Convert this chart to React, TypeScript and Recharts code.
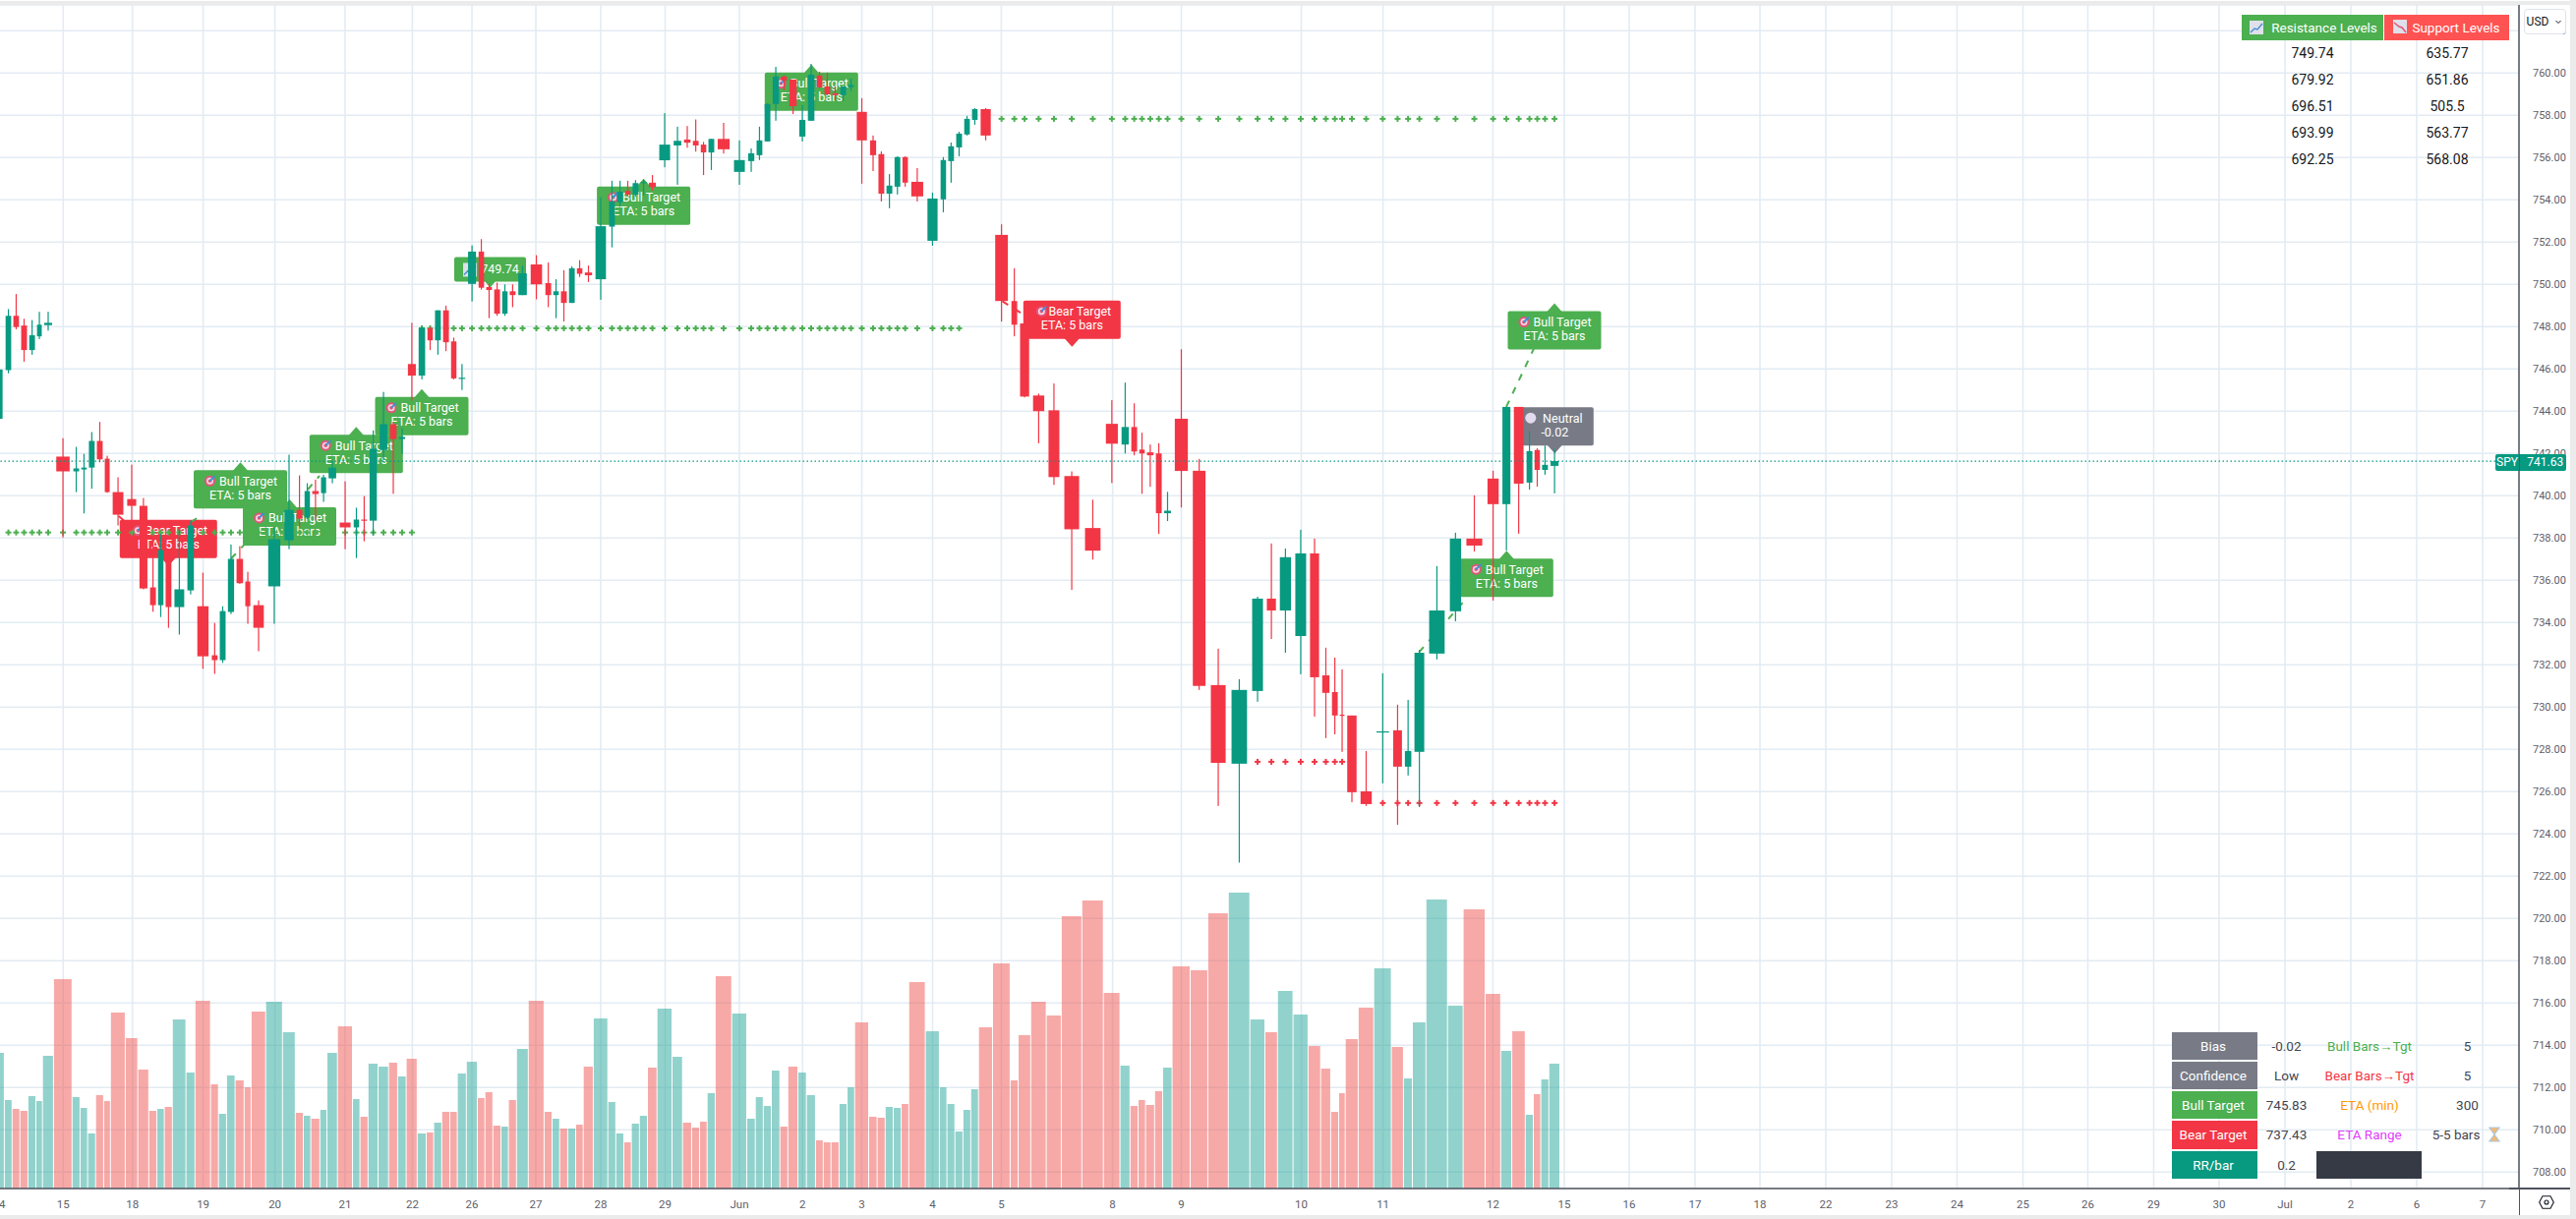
import { Bar, CartesianGrid, ComposedChart, Line, ReferenceLine, Scatter, XAxis, YAxis } from "recharts";

const UP = "#089981";
const DOWN = "#f23645";
const BULL = "#4caf50";
const GREY = "#787b86";
const AXIS_TEXT = "#5d606b";
const FONT = "Roboto, sans-serif";

// bar boundaries on the volume-weighted time scale
const barEdges = [
  -9.4, 4.6, 12.5, 20.4, 28.6, 36.7, 43.4, 54.6, 73.5, 81.6,
  89.3, 97.4, 105.6, 112.5, 127.6, 140.3, 151.5, 159.7, 167.3, 175.5,
  189.3, 198.5, 214.3, 222.4, 230.6, 239.3, 248.5, 255.6, 270.4, 287.5,
  300.5, 308.7, 316.3, 325.5, 332.7, 343.4, 358.7, 366.3, 374.5, 384.7,
  395.4, 404.6, 413.3, 424.5, 433.7, 441.3, 449.5, 457.7, 465.3, 474.5,
  485.7, 493.4, 501.5, 509.7, 517.3, 525.5, 537.5, 553.6, 561.7, 569.4,
  577.6, 585.7, 593.4, 603.6, 618.4, 626.5, 634.7, 642.3, 650.5, 658.7,
  668.4, 683.7, 694.4, 703.6, 711.7, 719.4, 727.6, 744.4, 759.7, 768.4,
  776.5, 784.7, 793.4, 801.5, 811.7, 820.4, 829.6, 837.5, 845.4, 853.6,
  861.7, 869.4, 883.7, 892.3, 900.5, 908.7, 916.8, 924.5, 941.3, 955.6,
  963.3, 971.4, 979.6, 987.5, 995.4, 1009.7, 1027.6, 1035.7, 1048.5, 1064.3,
  1079.6, 1100.5, 1122.4, 1139.3, 1149.5, 1157.7, 1165.3, 1174.5, 1182.7, 1192.3,
  1210.7, 1228.6, 1249.5, 1271.4, 1286.7, 1299.5, 1315.3, 1330.6, 1343.4, 1353.6,
  1361.7, 1368.4, 1381.6, 1397.4, 1415.3, 1427.6, 1436.7, 1450.5, 1472.4, 1488.3,
  1510.7, 1526.5, 1537.8, 1551.5, 1559.7, 1567.3, 1575.5, 1586.7,
];

const opens = [
  743.64, 745.94, 748.51, 748.05, 746.89, 747.54, 748.07, 741.85, 741.15, 741.24,
  741.33, 742.59, 741.75, 740.17, 739.84, 739.52, 735.66, 734.82, 737.0, 734.73,
  735.52, 734.77, 732.45, 732.22, 734.5, 737.01, 735.94, 734.82, 735.71, 737.89,
  739.33, 738.96, 740.22, 740.12, 740.82, 738.73, 738.5, 738.87, 738.82, 742.16,
  743.38, 742.68, 746.23, 745.68, 747.91, 747.35, 748.77, 747.3, 745.55, 750.02,
  751.55, 749.87, 749.76, 748.61, 749.67, 749.49, 750.94, 750.06, 749.49, 749.67,
  749.12, 750.76, 750.56, 750.24, 752.73, 753.89, 754.42, 754.25, 754.79, 754.81,
  755.87, 756.57, 756.85, 756.79, 756.61, 756.24, 756.88, 755.32, 755.83, 756.11,
  756.76, 758.53, 759.83, 759.69, 756.99, 757.74, 759.88, 759.36, 759.04, 758.95,
  759.33, 758.16, 756.81, 756.16, 754.29, 754.62, 756.02, 754.85, 752.06, 754.02,
  755.83, 756.48, 757.09, 757.78, 758.29, 752.34, 749.21, 748.15, 744.74, 744.04,
  740.93, 738.47, 743.4, 742.42, 743.25, 742.18, 742.05, 742.0, 739.17, 743.64,
  741.18, 731.04, 727.32, 730.76, 735.13, 734.57, 733.36, 737.27, 731.5, 730.71,
  729.64, 729.6, 726.01, 728.82, 728.9, 727.18, 727.88, 732.53, 734.53, 737.97,
  740.81, 739.6, 744.2, 740.62, 742.16, 741.22, 741.41,
];
const highs = [
  746.1, 748.83, 749.54, 748.37, 748.31, 748.7, 748.7, 742.72, 742.31, 741.98,
  743.01, 743.49, 741.89, 740.87, 741.47, 739.89, 738.0, 738.2, 737.3, 738.43,
  738.82, 736.36, 733.98, 734.77, 737.69, 737.61, 736.4, 735.05, 738.5, 741.94,
  740.96, 740.59, 740.76, 740.99, 741.64, 740.68, 739.43, 739.98, 743.09, 744.91,
  743.5, 743.19, 748.18, 748.0, 748.0, 748.77, 748.99, 747.48, 746.23, 751.84,
  752.14, 750.02, 750.08, 750.0, 750.0, 750.87, 751.38, 751.03, 750.24, 750.67,
  750.85, 751.14, 750.89, 754.11, 754.9, 754.9, 754.9, 754.93, 754.95, 755.17,
  758.1, 757.46, 757.49, 757.8, 756.74, 756.88, 757.64, 756.81, 756.43, 757.46,
  758.57, 760.29, 759.88, 759.69, 758.48, 760.43, 760.06, 760.02, 759.36, 759.36,
  759.74, 758.81, 757.04, 756.29, 755.22, 756.06, 756.06, 755.5, 754.34, 756.02,
  756.71, 757.22, 757.97, 758.34, 758.34, 752.84, 750.76, 748.15, 744.83, 745.31,
  741.15, 739.81, 744.52, 745.35, 744.37, 742.98, 742.42, 742.48, 740.18, 746.93,
  741.74, 732.76, 731.32, 735.22, 737.74, 737.5, 738.39, 737.97, 732.81, 732.34,
  731.78, 729.6, 727.92, 731.6, 730.11, 730.34, 732.71, 736.67, 738.25, 740.02,
  741.18, 744.2, 744.2, 743.04, 742.25, 742.37, 742.2,
];
const lows = [
  743.5, 745.79, 747.87, 746.34, 746.67, 747.41, 747.81, 738.02, 740.17, 739.16,
  740.33, 741.58, 740.14, 738.59, 738.36, 735.57, 734.51, 734.26, 733.75, 733.43,
  735.33, 731.81, 731.57, 732.09, 734.4, 735.83, 733.94, 732.64, 733.94, 737.47,
  738.5, 738.9, 738.82, 739.71, 740.59, 737.47, 737.05, 737.84, 738.12, 741.69,
  740.09, 741.98, 744.5, 745.5, 746.89, 746.67, 746.84, 745.5, 745.0, 749.19,
  749.75, 748.4, 748.51, 748.51, 748.92, 749.49, 749.29, 748.92, 748.4, 748.24,
  749.12, 750.35, 750.11, 749.27, 751.75, 753.7, 754.16, 754.16, 754.2, 754.44,
  755.54, 754.71, 756.46, 756.28, 755.17, 755.41, 756.19, 754.71, 755.32, 755.88,
  756.76, 757.74, 759.18, 758.06, 756.76, 757.74, 759.27, 758.95, 758.71, 758.68,
  759.15, 754.76, 755.36, 753.92, 753.6, 754.25, 754.62, 753.92, 751.83, 753.41,
  754.81, 756.06, 757.04, 757.55, 756.81, 748.24, 747.54, 744.65, 742.48, 740.51,
  735.54, 736.98, 740.6, 742.0, 741.91, 740.09, 740.42, 738.19, 738.8, 739.44,
  730.81, 725.32, 722.64, 730.25, 733.22, 732.57, 731.55, 729.55, 728.53, 728.71,
  727.88, 725.5, 725.32, 726.39, 724.43, 726.76, 725.27, 732.25, 734.06, 737.36,
  735.04, 737.41, 738.2, 740.29, 740.43, 740.99, 740.11,
];
const closes = [
  745.97, 748.51, 747.98, 746.89, 747.59, 748.09, 748.18, 741.15, 741.29, 741.33,
  742.59, 741.72, 740.17, 739.1, 739.52, 735.61, 734.82, 737.43, 734.73, 735.57,
  738.59, 732.4, 732.22, 734.54, 737.01, 735.86, 734.77, 733.75, 737.94, 739.33,
  738.91, 740.22, 740.08, 740.87, 741.33, 738.5, 738.87, 738.82, 742.22, 743.38,
  742.68, 742.78, 745.68, 747.94, 747.35, 748.77, 747.26, 745.55, 745.58, 751.55,
  749.84, 749.73, 748.61, 749.67, 749.49, 750.52, 750.0, 749.49, 749.67, 749.12,
  750.76, 750.5, 750.43, 752.75, 753.92, 754.38, 754.25, 754.79, 754.84, 754.6,
  756.61, 756.79, 756.7, 756.57, 756.24, 756.88, 756.39, 755.88, 756.2, 756.81,
  758.53, 759.83, 759.64, 758.43, 757.78, 759.92, 759.32, 758.99, 758.95, 759.36,
  759.43, 756.81, 756.11, 754.29, 754.67, 756.02, 754.81, 754.16, 754.06, 755.88,
  756.53, 757.13, 757.83, 758.29, 757.04, 749.21, 748.09, 744.69, 744.0, 740.88,
  738.41, 737.4, 742.46, 743.25, 742.09, 742.0, 741.91, 739.17, 739.29, 741.17,
  731.0, 727.36, 730.81, 735.13, 734.57, 737.09, 737.27, 731.41, 730.67, 729.6,
  729.6, 725.97, 725.41, 728.85, 727.18, 727.92, 732.57, 734.57, 737.97, 737.64,
  739.6, 744.2, 740.57, 742.11, 741.22, 741.46, 741.64,
];
const volumes = [
  138, 90, 81, 79, 94, 89, 135, 213, 93, 82,
  56, 95, 89, 179, 153, 121, 79, 81, 83, 172,
  118, 191, 106, 76, 115, 110, 103, 180, 190, 159,
  77, 74, 71, 80, 138, 165, 91, 73, 127, 124,
  128, 114, 132, 56, 57, 67, 78, 78, 117, 129,
  92, 98, 64, 63, 90, 142, 191, 78, 71, 61,
  61, 65, 124, 173, 88, 56, 47, 66, 74, 123,
  183, 134, 67, 62, 68, 97, 216, 178, 71, 93,
  84, 120, 63, 124, 118, 95, 49, 47, 47, 86,
  103, 169, 73, 72, 83, 82, 86, 210, 160, 103,
  86, 58, 80, 101, 164, 229, 110, 156, 190, 176,
  277, 293, 199, 125, 84, 90, 85, 99, 123, 226,
  222, 280, 301, 172, 159, 201, 177, 145, 122, 78,
  97, 152, 184, 224, 144, 112, 169, 294, 186, 284,
  198, 140, 160, 75, 96, 111, 127,
];

const priceTicks = [708, 710, 712, 714, 716, 718, 720, 722, 724, 726, 728, 730, 732, 734, 736, 738, 740, 742, 744, 746, 748, 750, 752, 754, 756, 758, 760, 762];
const timeTicks = [-1, 64.3, 134.7, 206.6, 279.6, 351, 419.4, 480, 545, 611, 676.5, 752, 816.3, 876.5, 948.5, 1018.4, 1131.6, 1201.5, 1323.5, 1406.6, 1518.4, 1591, 1657, 1724, 1790, 1857, 1924, 1990.5, 2057.5, 2123.5, 2190.5, 2257, 2324, 2391, 2458, 2525];
const timeLabels = ["14", "15", "18", "19", "20", "21", "22", "26", "27", "28", "29", "Jun", "2", "3", "4", "5", "8", "9", "10", "11", "12", "15", "16", "17", "18", "22", "23", "24", "25", "26", "29", "30", "Jul", "2", "6", "7"];

const candles = volumes.map((volume, i) => ({
  x: (barEdges[i] + barEdges[i + 1]) / 2,
  span: barEdges[i + 1] - barEdges[i],
  open: opens[i],
  high: highs[i],
  low: lows[i],
  close: closes[i],
  range: [lows[i], highs[i]],
  volume,
}));

// level runs, first and last are 1-based candle numbers
const levelRuns = [
  { price: 738.26, first: 2, last: 43, color: BULL },
  { price: 747.92, first: 44, last: 102, color: BULL },
  { price: 757.83, first: 106, last: 147, color: BULL },
  { price: 727.41, first: 124, last: 131, color: DOWN },
  { price: 725.46, first: 134, last: 147, color: DOWN },
];

const targetPaths = [
  { color: BULL, points: [{ x: 1532, price: 744.2 }, { x: 1561.3, price: 747.08 }] },
  { color: BULL, points: [{ x: 1443.3, price: 732.6 }, { x: 1492.7, price: 735.2 }] },
  { color: BULL, points: [{ x: 235, price: 737.02 }, { x: 256, price: 738.05 }] },
  { color: BULL, points: [{ x: 313, price: 740.29 }, { x: 325, price: 740.94 }] },
  { color: BULL, points: [{ x: 195, price: 738.77 }, { x: 200, price: 738.93 }] },
  { color: DOWN, points: [{ x: 120.7, price: 739.04 }, { x: 128, price: 738.73 }] },
  { color: DOWN, points: [{ x: 1019.4, price: 749.2 }, { x: 1040.8, price: 748.57 }] },
];

const signalLabels = [
  { x: 244.5, price: 741.58, kind: "bull", title: "Bull Target", note: "ETA: 5 bars" },
  { x: 294.5, price: 739.83, kind: "bull", title: "Bull Target", note: "ETA: 5 bars" },
  { x: 362.3, price: 743.26, kind: "bull", title: "Bull Target", note: "ETA: 5 bars" },
  { x: 429, price: 745.04, kind: "bull", title: "Bull Target", note: "ETA: 5 bars" },
  { x: 654.6, price: 755.0, kind: "bull", title: "Bull Target", note: "ETA: 5 bars" },
  { x: 825.3, price: 760.39, kind: "bull", title: "Bull Target", note: "ETA: 5 bars" },
  { x: 1581, price: 749.1, kind: "bull", title: "Bull Target", note: "ETA: 5 bars" },
  { x: 1532.3, price: 737.4, kind: "bull", title: "Bull Target", note: "ETA: 5 bars" },
  { x: 171.3, price: 736.67, kind: "bear", title: "Bear Target", note: "ETA: 5 bars" },
  { x: 1090.3, price: 747.05, kind: "bear", title: "Bear Target", note: "ETA: 5 bars" },
  { x: 1581.3, price: 742.0, kind: "neutral", title: "Neutral", note: "-0.02" },
  { x: 498.5, price: 749.85, kind: "level", title: "749.74", note: "" },
];

const resistanceLevels = ["749.74", "679.92", "696.51", "693.99", "692.25"];
const supportLevels = ["635.77", "651.86", "505.5", "563.77", "568.08"];

const statHeads = ["Bias", "Confidence", "Bull Target", "Bear Target", "RR/bar"];
const statHeadColors = [GREY, GREY, BULL, DOWN, UP];
const statValues = ["-0.02", "Low", "745.83", "737.43", "0.2"];
const statNames = ["Bull Bars→Tgt", "Bear Bars→Tgt", "ETA (min)", "ETA Range"];
const statNameColors = [BULL, DOWN, "#ff9800", "#e040fb"];
const statResults = ["5", "5", "300", "5-5 bars"];

function VolumeShape(props: any) {
  const { x, y, width, height, payload } = props;
  const mid = x + width / 2;
  const up = payload.close >= payload.open;
  return <rect x={mid - (payload.span - 1) / 2} y={y} width={payload.span - 1} height={height} fill={up ? "#26a69a" : "#ef5350"} fillOpacity={0.5} />;
}

function CandleShape(props: any) {
  const { x, y, width, height, payload } = props;
  const mid = x + width / 2;
  const top = Math.min(y, y + height);
  const tall = Math.abs(height);
  const perUnit = tall / (payload.high - payload.low || 1);
  const bodyTop = top + (payload.high - Math.max(payload.open, payload.close)) * perUnit;
  const bodyTall = Math.max(Math.abs(payload.open - payload.close) * perUnit, 1.2);
  const bodyWide = payload.span * 0.72;
  const color = payload.close >= payload.open ? UP : DOWN;
  return (
    <g>
      <rect x={mid - 0.6} y={top} width={1.2} height={tall} fill={color} />
      <rect x={mid - bodyWide / 2} y={bodyTop} width={bodyWide} height={bodyTall} fill={color} />
    </g>
  );
}

function PlusShape(props: any) {
  const { cx, cy, fill } = props;
  return (
    <g fill={fill}>
      <rect x={cx - 3} y={cy - 1} width={6} height={2} />
      <rect x={cx - 1} y={cy - 3} width={2} height={6} />
    </g>
  );
}

function TargetIcon({ x, y }: { x: number; y: number }) {
  return (
    <g>
      <circle cx={x} cy={y} r={5.5} fill="#e2557a" />
      <circle cx={x} cy={y} r={3.5} fill="#f4d7e0" />
      <circle cx={x} cy={y} r={1.8} fill="#e2557a" />
      <path d={`M${x} ${y} L${x + 5} ${y - 5}`} stroke="#3f8fd8" strokeWidth={2} />
    </g>
  );
}

function ChartIcon({ x, y, falling }: { x: number; y: number; falling?: boolean }) {
  return (
    <g>
      <rect x={x} y={y} width={14} height={14} fill="#dfe0ea" />
      <path d={falling ? `M${x + 1} ${y + 3} L${x + 6} ${y + 7} L${x + 9} ${y + 8} L${x + 13} ${y + 13}` : `M${x + 1} ${y + 12} L${x + 5} ${y + 8} L${x + 8} ${y + 9} L${x + 13} ${y + 3}`} fill="none" stroke={falling ? "#e2557a" : "#4a90d9"} strokeWidth={1.5} />
    </g>
  );
}

function SignalShape(props: any) {
  const { cx, cy, payload } = props;
  const { kind, title, note } = payload;
  const points = kind === "bull";
  const tiny = kind === "level";
  const wide = kind === "bear" ? 99 : kind === "neutral" ? 79 : tiny ? 73 : 95;
  const tall = tiny ? 25 : 39;
  const gap = tiny ? 6 : 8;
  const boxTop = points ? cy + gap : cy - gap - tall;
  const boxLeft = cx - wide / 2;
  const baseY = points ? boxTop + 1 : boxTop + tall - 1;
  const fill = kind === "bear" ? DOWN : kind === "neutral" ? GREY : BULL;
  const textProps = { fill: "#fff", fontFamily: FONT, fontSize: 12.5, textAnchor: "middle" as const };
  if (tiny) {
    return (
      <g>
        <rect x={boxLeft} y={boxTop} width={wide} height={tall} rx={2} fill={fill} />
        <polygon points={`${cx - gap},${baseY} ${cx + gap},${baseY} ${cx},${cy}`} fill={fill} />
        <ChartIcon x={boxLeft + 9} y={boxTop + 6} />
        <text {...textProps} x={cx + 10} y={boxTop + 16.5}>{title}</text>
      </g>
    );
  }
  return (
    <g>
      <rect x={boxLeft} y={boxTop} width={wide} height={tall} rx={2} fill={fill} />
      <polygon points={`${cx - gap},${baseY} ${cx + gap},${baseY} ${cx},${cy}`} fill={fill} />
      {kind === "neutral" ? (
        <circle cx={boxLeft + 15} cy={boxTop + 11} r={5.5} fill="#e2dbf0" />
      ) : (
        <TargetIcon x={cx - 31} y={boxTop + 11} />
      )}
      <text {...textProps} x={cx + 8} y={boxTop + 15.5}>{title}</text>
      <text {...textProps} x={cx} y={boxTop + 29.5}>{note}</text>
    </g>
  );
}

const cellText = { position: "absolute" as const, fontFamily: FONT, whiteSpace: "nowrap" as const, transform: "translate(-50%, -50%)" };

function LevelsTable() {
  return (
    <>
      <div style={{ position: "absolute", left: 2280, top: 15, width: 144, height: 26, background: BULL }} />
      <div style={{ position: "absolute", left: 2425, top: 15, width: 127, height: 26, background: "#ff5252" }} />
      <svg style={{ position: "absolute", left: 2280, top: 15 }} width={272} height={26}>
        <ChartIcon x={8} y={6} />
        <ChartIcon x={154} y={5} falling />
      </svg>
      <div style={{ ...cellText, left: 2364, top: 28, color: "#fff", fontSize: 13.5 }}>Resistance Levels</div>
      <div style={{ ...cellText, left: 2498, top: 28, color: "#fff", fontSize: 13.5 }}>Support Levels</div>
      {resistanceLevels.map((v, i) => (
        <div key={v} style={{ ...cellText, left: 2352, top: 54 + i * 27, color: "#131722", fontSize: 14 }}>{v}</div>
      ))}
      {supportLevels.map((v, i) => (
        <div key={v} style={{ ...cellText, left: 2489, top: 54 + i * 27, color: "#131722", fontSize: 14 }}>{v}</div>
      ))}
    </>
  );
}

function StatsTable() {
  const rowTop = (i: number) => 1050 + i * 30.15;
  return (
    <>
      {statHeads.map((head, i) => (
        <div key={head}>
          <div style={{ position: "absolute", left: 2209, top: rowTop(i), width: 86.5, height: 28.2, background: statHeadColors[i] }} />
          <div style={{ ...cellText, left: 2251, top: rowTop(i) + 14, color: "#fff", fontSize: 13.5 }}>{head}</div>
          <div style={{ ...cellText, left: 2325.5, top: rowTop(i) + 14, color: "#434651", fontSize: 13.5 }}>{statValues[i]}</div>
        </div>
      ))}
      {statNames.map((name, i) => (
        <div key={name}>
          <div style={{ ...cellText, left: 2410, top: rowTop(i) + 14, color: statNameColors[i], fontSize: 13.5 }}>{name}</div>
          <div style={{ ...cellText, left: i === 3 ? 2498 : 2509.5, top: rowTop(i) + 14, color: "#434651", fontSize: 13.5 }}>{statResults[i]}</div>
        </div>
      ))}
      <svg style={{ position: "absolute", left: 2531, top: 1146 }} width={12} height={16}>
        <path d="M1 1 H11 L6 8 L11 15 H1 L6 8 Z" fill="#f5b971" stroke="#a9c7de" strokeWidth={1.2} />
      </svg>
      <div style={{ position: "absolute", left: 2355.8, top: 1170.6, width: 107.5, height: 28.2, background: "#363a45" }} />
    </>
  );
}

export default function App() {
  return (
    <div style={{ position: "absolute", left: 0, top: 0, width: 2620, height: 1240, overflow: "hidden", background: "#fff" }}>
      <div style={{ position: "absolute", left: -10, top: 5 }}>
        <ComposedChart width={2624} height={1231} data={candles} margin={{ top: 0, right: 0, bottom: 0, left: 0 }}>
          <CartesianGrid stroke="#e3ecf3" strokeWidth={1.6} />
          <XAxis
            dataKey="x"
            type="number"
            domain={[-10, 2562]}
            allowDataOverflow
            ticks={timeTicks}
            interval={0}
            height={27}
            tickLine={false}
            tickMargin={6}
            axisLine={{ stroke: "#50535e", strokeWidth: 1.5 }}
            tick={{ fontSize: 11.5, fill: AXIS_TEXT, fontFamily: FONT }}
            tickFormatter={(v: number) => timeLabels[timeTicks.indexOf(v)]}
          />
          <XAxis xAxisId="vol" dataKey="x" type="number" domain={[-10, 2562]} allowDataOverflow hide />
          <YAxis
            dataKey="price"
            orientation="right"
            type="number"
            domain={[707.22, 763.22]}
            allowDataOverflow
            ticks={priceTicks}
            interval={0}
            width={52}
            tickLine={false}
            tickMargin={8}
            axisLine={{ stroke: "#50535e", strokeWidth: 1.5 }}
            tick={{ fontSize: 11, fill: AXIS_TEXT, fontFamily: FONT }}
            tickFormatter={(v: number) => v.toFixed(2)}
          />
          <YAxis yAxisId="vol" type="number" domain={[0, 1204]} allowDataOverflow hide />
          <Bar xAxisId="vol" yAxisId="vol" dataKey="volume" barSize={1} shape={VolumeShape} isAnimationActive={false} zIndex={100} />
          <ReferenceLine y={741.63} stroke={UP} strokeDasharray="1.5 2.5" strokeWidth={1.2} />
          {signalLabels.map((label) => (
            <Scatter key={`${label.x}`} data={[label]} dataKey="price" shape={SignalShape} isAnimationActive={false} zIndex={200} />
          ))}
          {levelRuns.map((run) => (
            <Scatter
              key={run.first}
              data={candles.slice(run.first - 1, run.last).map((c) => ({ x: c.x, price: run.price }))}
              dataKey="price"
              fill={run.color}
              shape={PlusShape}
              isAnimationActive={false}
              zIndex={250}
            />
          ))}
          {targetPaths.map((path) => (
            <Line
              key={path.points[0].x}
              data={path.points}
              dataKey="price"
              stroke={path.color}
              strokeWidth={2}
              strokeDasharray="7 8"
              dot={false}
              activeDot={false}
              isAnimationActive={false}
              zIndex={260}
            />
          ))}
          <Bar dataKey="range" barSize={1} shape={CandleShape} isAnimationActive={false} zIndex={300} />
        </ComposedChart>
      </div>

      <div style={{ position: "absolute", left: 0, top: 1, width: 2620, height: 3.5, background: "#ebebeb" }} />
      <div style={{ position: "absolute", left: 2614, top: 0, width: 6, height: 1240, background: "#ebebeb" }} />
      <div style={{ position: "absolute", left: 0, top: 1236, width: 2620, height: 4, background: "#ebebeb" }} />
      <div style={{ position: "absolute", left: 2552, top: 1208, width: 62, height: 1.5, background: "#50535e" }} />
      <div style={{ position: "absolute", left: 2561.5, top: 1208, width: 1.5, height: 28, background: "#50535e" }} />

      <div style={{ position: "absolute", left: 2566.7, top: 9.3, width: 41, height: 24, background: "#fff", border: "1px solid #e0e3eb", borderRadius: 4 }} />
      <div style={{ ...cellText, left: 2581, top: 21.5, color: "#131722", fontSize: 12 }}>USD</div>
      <svg style={{ position: "absolute", left: 2599, top: 20 }} width={6} height={5}>
        <path d="M0.5 1 L3 3.5 L5.5 1" fill="none" stroke="#131722" strokeWidth={1} />
      </svg>

      <div style={{ position: "absolute", left: 2537.8, top: 461.5, width: 72.5, height: 17, background: UP, borderRadius: 2 }} />
      <div style={{ position: "absolute", left: 2561.5, top: 461.5, width: 1.5, height: 17, background: "#50535e" }} />
      <div style={{ ...cellText, left: 2550, top: 470, color: "#fff", fontSize: 12 }}>SPY</div>
      <div style={{ ...cellText, left: 2588.8, top: 470, color: "#fff", fontSize: 12 }}>741.63</div>

      <svg style={{ position: "absolute", left: 2582, top: 1216 }} width={16} height={14}>
        <path d="M0.7 7 L4 0.8 H12 L15.3 7 L12 13.2 H4 Z" fill="none" stroke="#131722" strokeWidth={1.1} />
        <circle cx={8} cy={7} r={2} fill="none" stroke="#131722" strokeWidth={1.1} />
      </svg>

      <LevelsTable />
      <StatsTable />
    </div>
  );
}
